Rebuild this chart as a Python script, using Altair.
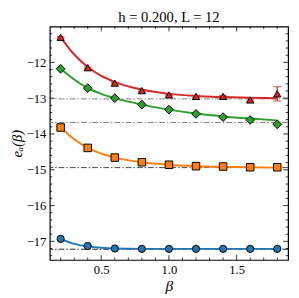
import altair as alt
import pandas as pd

beta = [0.2, 0.4, 0.6, 0.8, 1.0, 1.2, 1.4, 1.6, 1.8]
red_pts = [-11.30, -12.15, -12.58, -12.79, -12.91, -12.95, -12.95, -13.05, -12.88]
red_err = [0.02, 0.02, 0.02, 0.02, 0.02, 0.03, 0.03, 0.03, 0.20]
green_pts = [-12.18, -12.72, -13.00, -13.18, -13.32, -13.44, -13.53, -13.61, -13.73]
orange_pts = [-13.82, -14.39, -14.66, -14.79, -14.86, -14.90, -14.91, -14.93, -14.93]
blue_pts = [-16.93, -17.13, -17.20, -17.21, -17.21, -17.21, -17.21, -17.21, -17.21]

curve_beta = [0.2, 0.3, 0.4, 0.5, 0.6, 0.8, 1.0, 1.2, 1.4, 1.6, 1.8]
red_curve = [-11.30, -11.78, -12.13, -12.38, -12.55, -12.76, -12.88, -12.94, -12.97, -12.99, -13.00]
green_curve = [-12.18, -12.48, -12.72, -12.88, -13.00, -13.18, -13.32, -13.43, -13.51, -13.57, -13.62]
orange_curve = [-13.82, -14.15, -14.39, -14.55, -14.66, -14.79, -14.86, -14.90, -14.92, -14.93, -14.94]
blue_curve = [-16.93, -17.07, -17.14, -17.18, -17.20, -17.21, -17.21, -17.21, -17.21, -17.21, -17.21]

ref_levels = [-13.02, -13.68, -14.94, -17.22]
ref_colors = ["#808080", "#808080", "#444444", "#222222"]

series = ["red", "green", "orange", "blue"]
colors = ["#d62728", "#2ca02c", "#ff7f0e", "#1f77b4"]
shapes = ["triangle-up", "diamond", "square", "circle"]
sizes = [55, 80, 60, 55]

x_major = [0.5, 1.0, 1.5]
x_minor = [0.2, 0.3, 0.4, 0.6, 0.7, 0.8, 0.9, 1.1, 1.2, 1.3, 1.4, 1.6, 1.7, 1.8]
y_major = [-17, -16, -15, -14, -13, -12]
y_minor = [-17.4, -17.2, -16.8, -16.6, -16.4, -16.2, -15.8, -15.6, -15.4, -15.2,
           -14.8, -14.6, -14.4, -14.2, -13.8, -13.6, -13.4, -13.2, -12.8, -12.6,
           -12.4, -12.2, -11.8, -11.6, -11.4, -11.2]

W, H = 245, 240
XDOM = [0.12, 1.88]
YDOM = [-17.52, -11.0]

pts_list = [red_pts, green_pts, orange_pts, blue_pts]
curves_list = [red_curve, green_curve, orange_curve, blue_curve]

pts = pd.DataFrame([
    {"beta": b, "e": v, "s": s, "c": c, "shape": sh, "size": sz}
    for s, c, sh, sz, vals in zip(series, colors, shapes, sizes, pts_list)
    for b, v in zip(beta, vals)
])
curves = pd.DataFrame([
    {"beta": b, "e": v, "s": s, "c": c}
    for s, c, vals in zip(series, colors, curves_list)
    for b, v in zip(curve_beta, vals)
])
err = pd.DataFrame({"beta": beta,
                    "lo": [v - e for v, e in zip(red_pts, red_err)],
                    "hi": [v + e for v, e in zip(red_pts, red_err)]})
refs = pd.DataFrame({"e": ref_levels, "c": ref_colors})

xs = alt.Scale(domain=XDOM, nice=False, zero=False)
ys = alt.Scale(domain=YDOM, nice=False, zero=False)

FONT = "Liberation Serif"
xaxis = alt.Axis(values=x_major, format=".1f", ticks=False, domain=False, grid=False,
                 labelFont=FONT, labelFontSize=13, labelColor="black", labelPadding=4,
                 title="β", titleFont=FONT, titleFontSize=16, titleFontStyle="italic",
                 titleFontWeight="normal", titleColor="black", titlePadding=1)
yaxis = alt.Axis(values=y_major, format=".0f", ticks=False, domain=False, grid=False,
                 labelFont=FONT, labelFontSize=13, labelColor="black", labelPadding=4,
                 title="eₐ(β)", titleFont=FONT, titleFontSize=15, titleFontStyle="italic",
                 titleFontWeight="normal", titleColor="black", titlePadding=2)

X = lambda f="beta": alt.X(f"{f}:Q", scale=xs, axis=xaxis)
Y = lambda f="e": alt.Y(f"{f}:Q", scale=ys, axis=yaxis)

ref_layer = alt.Chart(refs).mark_rule(strokeWidth=1, strokeDash=[6, 2, 1.5, 2]).encode(
    y=Y(), color=alt.Color("c:N", scale=None))

curve_layer = alt.Chart(curves).mark_line(interpolate="monotone", strokeWidth=2).encode(
    x=X(), y=Y(), detail="s:N", color=alt.Color("c:N", scale=None))

err_rule = alt.Chart(err).mark_rule(color="#d62728", strokeWidth=1.2).encode(
    x=X(), y=Y("lo"), y2="hi:Q")
cap_lo = alt.Chart(err).mark_tick(color="#d62728", size=8, thickness=1.2, orient="horizontal").encode(
    x=X(), y=Y("lo"))
cap_hi = alt.Chart(err).mark_tick(color="#d62728", size=8, thickness=1.2, orient="horizontal").encode(
    x=X(), y=Y("hi"))

pt_layer = alt.Chart(pts).mark_point(filled=True, stroke="black", strokeWidth=1, opacity=1).encode(
    x=X(), y=Y(),
    fill=alt.Fill("c:N", scale=None),
    shape=alt.Shape("shape:N", scale=None),
    size=alt.Size("size:Q", scale=None))

def xticks(vals, length):
    d = pd.DataFrame({"v": vals})
    b = alt.Chart(d).mark_rule(color="black", strokeWidth=0.8).encode(
        x=X("v"), y=alt.value(H), y2=alt.value(H - length))
    t = alt.Chart(d).mark_rule(color="black", strokeWidth=0.8).encode(
        x=X("v"), y=alt.value(0), y2=alt.value(length))
    return [b, t]

def yticks(vals, length):
    d = pd.DataFrame({"v": vals})
    l = alt.Chart(d).mark_rule(color="black", strokeWidth=0.8).encode(
        y=Y("v"), x=alt.value(0), x2=alt.value(length))
    r = alt.Chart(d).mark_rule(color="black", strokeWidth=0.8).encode(
        y=Y("v"), x=alt.value(W), x2=alt.value(W - length))
    return [l, r]

tick_layers = xticks(x_major, 5) + xticks(x_minor, 2.5) + yticks(y_major, 5) + yticks(y_minor, 2.5)

chart = alt.layer(
    ref_layer, curve_layer, err_rule, cap_lo, cap_hi, pt_layer, *tick_layers
).properties(
    width=W, height=H,
    title=alt.TitleParams("h = 0.200, L = 12", font=FONT, fontSize=15,
                          fontWeight="normal", color="black", offset=1),
    autosize=alt.AutoSizeParams(type="none"),
    padding={"left": 43, "top": 15, "right": 3, "bottom": 34},
).configure_view(stroke="black", strokeWidth=1.2)

chart.save("out.html", embed_options={"renderer": "svg", "actions": False})
